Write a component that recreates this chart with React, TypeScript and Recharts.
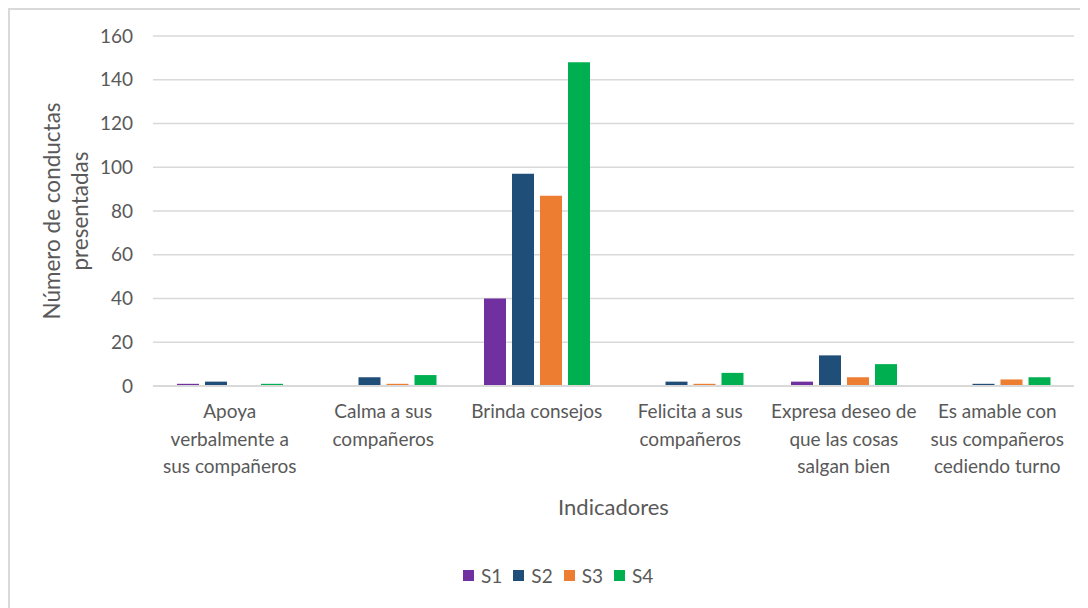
import { BarChart, Bar, XAxis, YAxis, CartesianGrid, Legend } from 'recharts';

const categories = [
  'Apoya verbalmente a sus compañeros',
  'Calma a sus compañeros',
  'Brinda consejos',
  'Felicita a sus compañeros',
  'Expresa deseo de que las cosas salgan bien',
  'Es amable con sus compañeros cediendo turno',
];

// wrapped tick text, one entry per category
const tickLines = [
  ['Apoya', 'verbalmente a', 'sus compañeros'],
  ['Calma a sus', 'compañeros'],
  ['Brinda consejos'],
  ['Felicita a sus', 'compañeros'],
  ['Expresa deseo de', 'que las cosas', 'salgan bien'],
  ['Es amable con', 'sus compañeros', 'cediendo turno'],
];

const s1 = [1, 0, 40, 0, 2, 0];
const s2 = [2, 4, 97, 2, 14, 1];
const s3 = [0, 1, 87, 1, 4, 3];
const s4 = [1, 5, 148, 6, 10, 4];

const yTicks = [0, 20, 40, 60, 80, 100, 120, 140, 160];

const SERIES = [
  { key: 'S1', color: '#7030A0' },
  { key: 'S2', color: '#1F4E79' },
  { key: 'S3', color: '#ED7D31' },
  { key: 'S4', color: '#00B050' },
];

const FONT = 'Lato, "Open Sans", sans-serif';
const TEXT = '#595959';
const GRID = '#d9d9d9';

const data = categories.map((name, i) => ({
  name,
  idx: i,
  S1: s1[i],
  S2: s2[i],
  S3: s3[i],
  S4: s4[i],
}));

function CategoryTick(props: any) {
  const { x, y, payload } = props;
  const lines = tickLines[payload.index] || [payload.value];
  return (
    <text x={x} y={y + 32} textAnchor="middle" fill={TEXT} fontSize={19} fontFamily={FONT}>
      {lines.map((line: string, i: number) => (
        <tspan key={i} x={x} dy={i === 0 ? 0 : 27.5}>
          {line}
        </tspan>
      ))}
    </text>
  );
}

function XTitle(props: any) {
  const { viewBox } = props;
  return (
    <text
      x={viewBox.x + viewBox.width / 2}
      y={viewBox.y + 129}
      textAnchor="middle"
      fill={TEXT}
      fontSize={22}
      fontFamily={FONT}
    >
      Indicadores
    </text>
  );
}

function YTitle(props: any) {
  const { viewBox } = props;
  const cy = viewBox.y + viewBox.height / 2;
  const x = 50;
  return (
    <text
      x={x}
      y={cy}
      transform={`rotate(-90, ${x}, ${cy})`}
      textAnchor="middle"
      fill={TEXT}
      fontSize={22.5}
      fontFamily={FONT}
    >
      <tspan x={x} dy={0}>Número de conductas</tspan>
      <tspan x={x} dy={28}>presentadas</tspan>
    </text>
  );
}

function SeriesLegend() {
  return (
    <div style={{ display: 'flex', alignItems: 'center', fontFamily: FONT, fontSize: 19, color: TEXT }}>
      {SERIES.map((s) => (
        <div key={s.key} style={{ display: 'flex', alignItems: 'center', marginRight: 11 }}>
          <span style={{ width: 11, height: 11, background: s.color, marginRight: 7, display: 'inline-block' }} />
          <span>{s.key}</span>
        </div>
      ))}
    </div>
  );
}

export default function App() {
  return (
    <div
      style={{
        width: 1080,
        height: 600,
        overflow: 'hidden',
        borderTop: `2px solid ${GRID}`,
        borderLeft: `2px solid ${GRID}`,
        background: '#fff',
      }}
    >
      <BarChart
        width={1078}
        height={598}
        data={data}
        margin={{ top: 26, right: 14, left: 0, bottom: 0 }}
        barCategoryGap={24}
        barGap={6}
      >
        <CartesianGrid vertical={false} stroke={GRID} strokeWidth={1.5} />
        <XAxis
          dataKey="name"
          height={222}
          interval={0}
          tickLine={false}
          tickSize={0}
          tickMargin={0}
          axisLine={{ stroke: GRID, strokeWidth: 2 }}
          tick={<CategoryTick />}
          label={<XTitle />}
        />
        <YAxis
          width={143}
          domain={[0, 160]}
          ticks={yTicks}
          axisLine={false}
          tickLine={false}
          tickSize={0}
          tickMargin={20}
          tick={{ fill: TEXT, fontSize: 19, fontFamily: FONT }}
          label={<YTitle />}
        />
        <Legend
          layout="horizontal"
          verticalAlign="middle"
          align="center"
          content={<SeriesLegend />}
          wrapperStyle={{ left: 453, top: 554, width: 'auto' }}
        />
        {SERIES.map((s) => (
          <Bar key={s.key} dataKey={s.key} fill={s.color} isAnimationActive={false} />
        ))}
      </BarChart>
    </div>
  );
}
